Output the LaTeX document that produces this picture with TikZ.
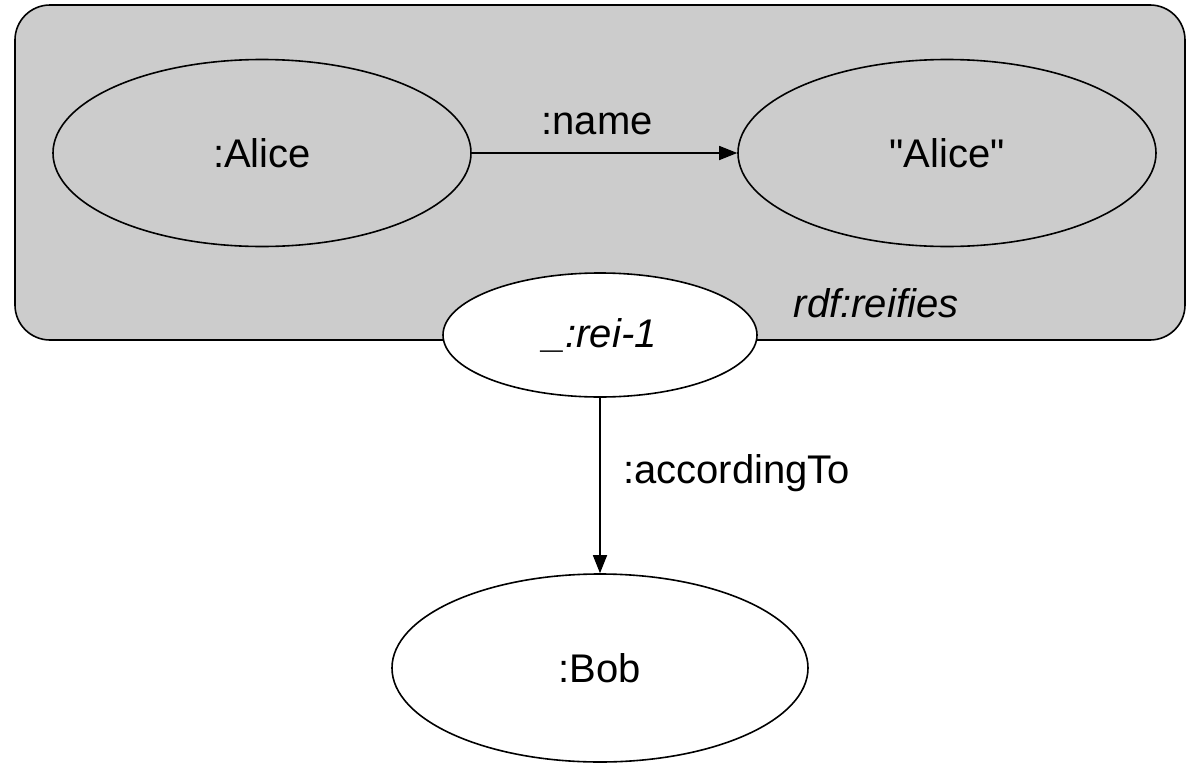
\documentclass[tikz,border=0pt]{standalone}
\usepackage{fontspec}
\setmainfont{Liberation Sans}
\newfontfamily\straightfont{Liberation Sans}
\usetikzlibrary{shapes.geometric,arrows.meta}
\definecolor{boxgray}{HTML}{CCCCCC}
\tikzset{
  res/.style={ellipse, draw=black, line width=1.6pt, inner sep=0pt, font=\fontsize{40}{48}\selectfont},
  lbl/.style={font=\fontsize{40}{48}\selectfont, inner sep=0pt},
  edge/.style={line width=1.6pt, -{Triangle[length=18pt,width=14pt]}}
}
\begin{document}
\begin{tikzpicture}[x=1pt,y=-1pt]
\useasboundingbox (0,0) rectangle (1187,763);
\draw[fill=boxgray, line width=1.6pt, rounded corners=35pt] (15,5) rectangle (1185,340);
\node[res, fill=boxgray, minimum width=418pt, minimum height=187pt] (alice) at (262,153) {:Alice};
\node[res, fill=boxgray, minimum width=418pt, minimum height=187pt] (alicelit) at (947,153) {\straightfont "Alice"};
\node[res, fill=white, minimum width=314pt, minimum height=124pt] (rei) at (600,335) {\itshape \_:rei-1};
\node[res, fill=white, minimum width=416pt, minimum height=188pt] (bob) at (600,668) {:Bob};
\draw[edge] (alice.east) -- (alicelit.west);
\node[lbl] (namelbl) at (597,124) {:name};
\node[lbl] (reifies) at (876,303) {\itshape rdf:reifies};
\draw[edge] (rei.south) -- (bob.north);
\node[lbl, anchor=west] (acclbl) at (623,473) {:accordingTo};
\end{tikzpicture}
\end{document}
